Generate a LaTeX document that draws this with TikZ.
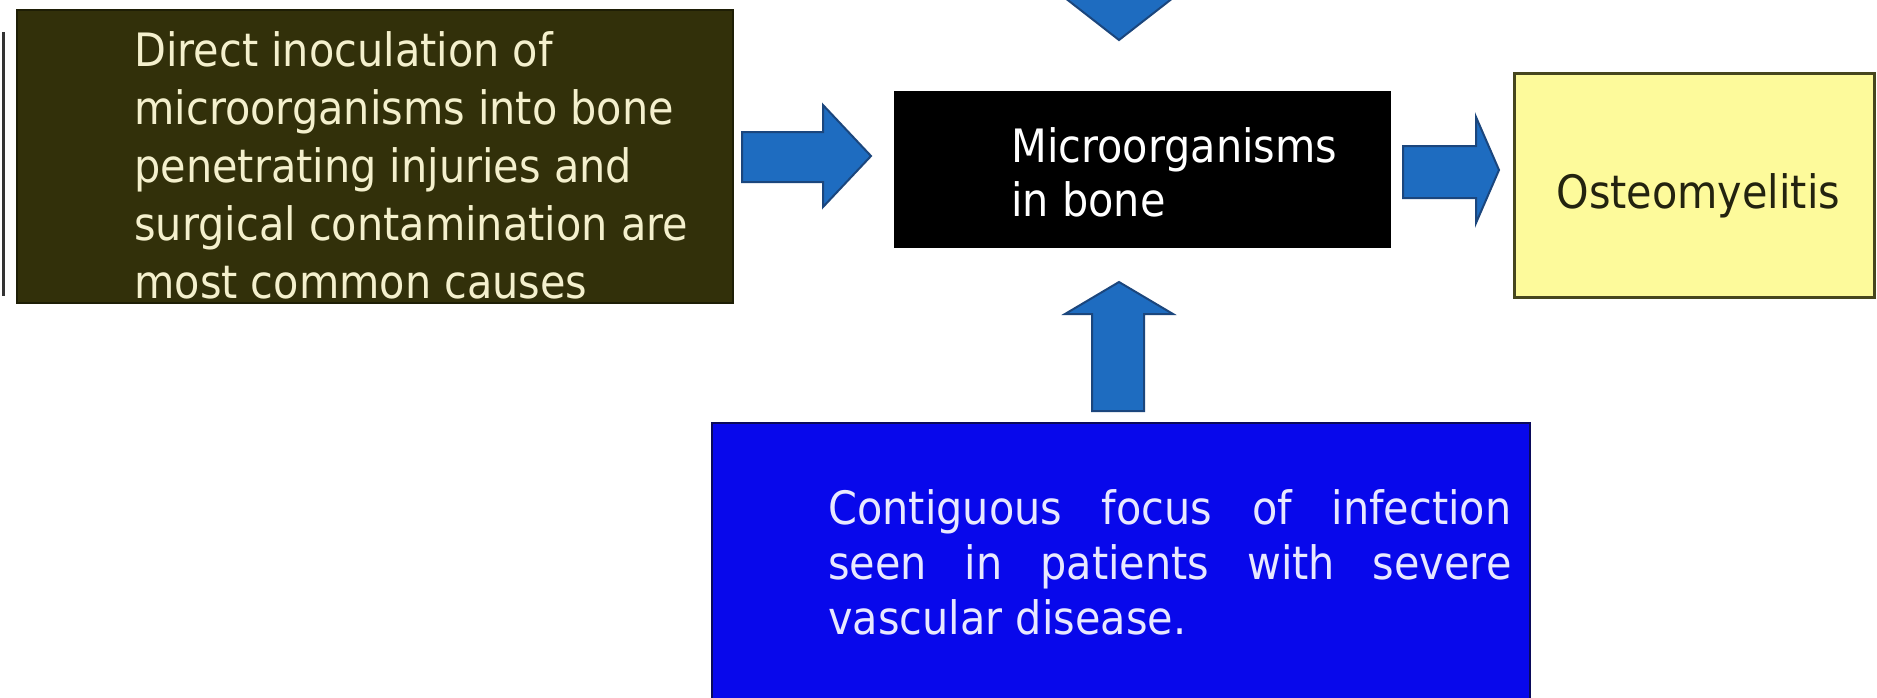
\documentclass[tikz,border=0pt]{standalone}
\usepackage{fontspec}
\setmainfont{DejaVu Sans}[FakeStretch=0.9]
\usetikzlibrary{fit}
\definecolor{olivebox}{RGB}{50,48,10}
\definecolor{oliveedge}{RGB}{30,30,6}
\definecolor{creamtext}{RGB}{244,240,205}
\definecolor{yellowbox}{RGB}{253,250,155}
\definecolor{yellowedge}{RGB}{70,70,30}
\definecolor{darktext}{RGB}{35,35,15}
\definecolor{bluebox}{RGB}{8,8,235}
\definecolor{blueedge}{RGB}{10,10,90}
\definecolor{bluetext}{RGB}{232,232,255}
\definecolor{arrowblue}{RGB}{30,108,192}
\definecolor{arrowedge}{RGB}{27,70,125}
\begin{document}
\begin{tikzpicture}[x=0.5pt,y=-0.5pt,
  blockarrow/.style={fill=arrowblue, draw=arrowedge, line width=1pt, line join=miter},
  txt/.style={anchor=base west, inner sep=0pt, font=\fontsize{23}{29}\selectfont},
  boxnode/.style={inner sep=0pt, rectangle}]
\useasboundingbox (0,0) rectangle (1877,697);
\clip (0,0) rectangle (1877,697);
\fill[white] (0,0) rectangle (1877,697);

% stray edge of a box cut off at the left
\draw[line width=1.5pt, black!80] (3,32) -- (3,296);

% boxes
\node[boxnode, fit={(17,10) (733,303)}, fill=olivebox, draw=oliveedge, line width=1pt] (direct) {};
\node[boxnode, fit={(894,91) (1391,248)}, fill=black] (micro) {};
\node[boxnode, fit={(1514,73) (1874,297)}, fill=yellowbox, draw=yellowedge, line width=1.5pt] (osteo) {};
\node[boxnode, fit={(712,423) (1530,712)}, fill=bluebox, draw=blueedge, line width=1pt] (contig) {};

% block arrows
\filldraw[blockarrow] (742,132) -- (823,132) -- (823,105) -- (871,156) -- (823,207) -- (823,182) -- (742,182) -- cycle;
\filldraw[blockarrow] (1403,146) -- (1476,146) -- (1476,117) -- (1499,170) -- (1476,223) -- (1476,198) -- (1403,198) -- cycle;
\filldraw[blockarrow] (1092,-40) -- (1144,-40) -- (1144,-6) -- (1178,-6) -- (1119,40) -- (1060,-6) -- (1092,-6) -- cycle;
\filldraw[blockarrow] (1092,411) -- (1092,314) -- (1065,314) -- (1119,282) -- (1173,314) -- (1144,314) -- (1144,411) -- cycle;

% texts
\node[txt, text=creamtext] (d1) at (134,66) {Direct inoculation of};
\node[txt, text=creamtext] (d2) at (134,124) {microorganisms into bone};
\node[txt, text=creamtext] (d3) at (134,182) {penetrating injuries and};
\node[txt, text=creamtext] (d4) at (134,240) {surgical contamination are};
\node[txt, text=creamtext] (d5) at (134,298) {most common causes};

\node[txt, text=white] (m1) at (1011,162) {Microorganisms};
\node[txt, text=white] (m2) at (1011,216) {in bone};

\node[txt, text=darktext] (o1) at (1556,208) {Osteomyelitis};

\node[txt, text=bluetext] (c1) at (828,524) {\makebox[341.5pt][s]{Contiguous focus of infection}};
\node[txt, text=bluetext] (c2) at (828,579) {\makebox[341.5pt][s]{seen in patients with severe}};
\node[txt, text=bluetext] (c3) at (828,634) {vascular disease.};
\end{tikzpicture}
\end{document}
